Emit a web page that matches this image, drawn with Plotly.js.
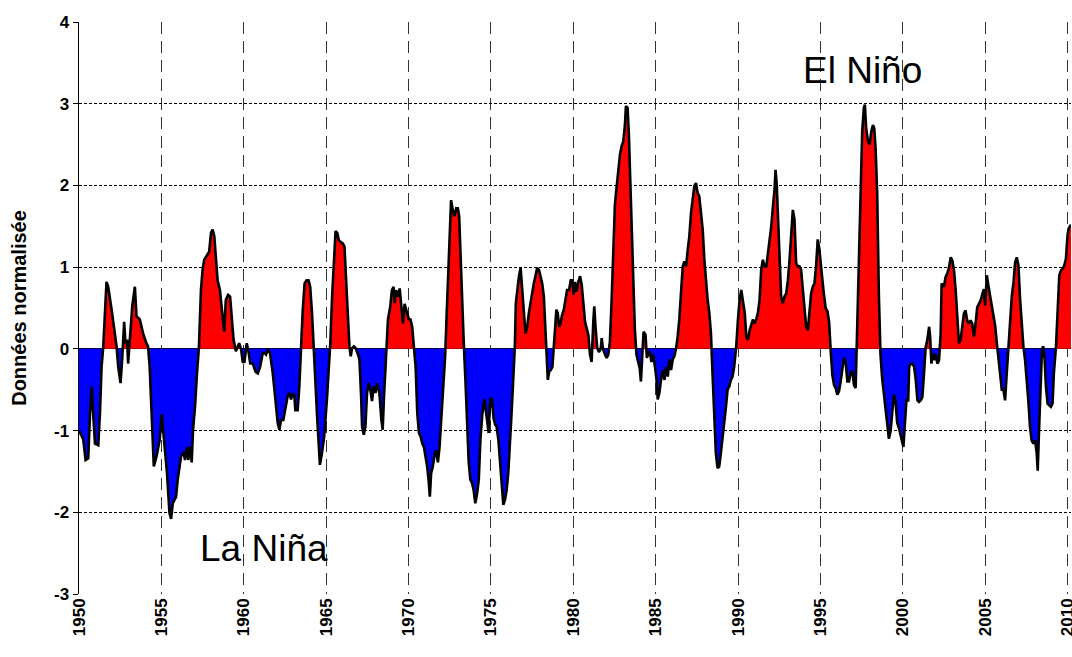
<!DOCTYPE html>
<html>
<head>
<meta charset="utf-8">
<script src="https://cdn.plot.ly/plotly-3.0.1.min.js"></script>
<style>html,body{margin:0;padding:0;background:#fff;}#chart{width:1072px;height:657px;}</style>
</head>
<body>
<div id="chart"></div>
<script>
const years = [
1950.00,1950.06,1950.26,1950.40,1950.56,1950.67,1950.77,1950.87,1950.97,1951.17,1951.27,1951.37,1951.47,1951.67,1951.77,1951.98,
1952.18,1952.28,1952.38,1952.52,1952.62,1952.74,1952.82,1952.92,1952.98,1953.08,1953.23,1953.39,1953.49,1953.69,1953.89,1954.09,
1954.19,1954.29,1954.40,1954.54,1954.70,1954.90,1955.02,1955.08,1955.18,1955.34,1955.49,1955.59,1955.69,1955.89,1955.99,1956.09,
1956.19,1956.35,1956.43,1956.55,1956.63,1956.76,1956.84,1956.92,1957.04,1957.16,1957.28,1957.40,1957.50,1957.60,1957.76,1957.90,
1958.01,1958.11,1958.21,1958.31,1958.41,1958.55,1958.67,1958.81,1958.91,1959.05,1959.17,1959.26,1959.38,1959.52,1959.62,1959.72,
1959.84,1959.94,1960.04,1960.18,1960.30,1960.39,1960.55,1960.71,1960.85,1960.99,1961.15,1961.25,1961.35,1961.45,1961.59,1961.76,
1961.92,1962.06,1962.16,1962.26,1962.40,1962.52,1962.66,1962.76,1962.87,1962.97,1963.07,1963.13,1963.27,1963.37,1963.47,1963.57,
1963.69,1963.81,1963.93,1964.03,1964.14,1964.22,1964.34,1964.44,1964.54,1964.62,1964.74,1964.88,1965.06,1965.16,1965.26,1965.36,
1965.47,1965.57,1965.67,1965.77,1965.87,1966.01,1966.11,1966.21,1966.31,1966.41,1966.49,1966.57,1966.68,1966.78,1966.90,1967.02,
1967.12,1967.18,1967.28,1967.38,1967.48,1967.58,1967.68,1967.78,1967.88,1967.99,1968.09,1968.23,1968.35,1968.43,1968.51,1968.63,
1968.75,1968.89,1968.99,1969.09,1969.16,1969.24,1969.36,1969.46,1969.56,1969.66,1969.76,1969.90,1970.02,1970.12,1970.22,1970.32,
1970.43,1970.53,1970.63,1970.73,1970.83,1970.93,1971.03,1971.13,1971.23,1971.29,1971.37,1971.47,1971.60,1971.68,1971.78,1971.88,
1971.98,1972.10,1972.22,1972.30,1972.38,1972.48,1972.58,1972.68,1972.78,1972.89,1972.99,1973.07,1973.15,1973.25,1973.35,1973.45,
1973.55,1973.65,1973.75,1973.85,1973.95,1974.05,1974.16,1974.26,1974.36,1974.48,1974.60,1974.68,1974.76,1974.86,1974.96,1975.06,
1975.16,1975.26,1975.34,1975.45,1975.55,1975.65,1975.75,1975.85,1975.95,1976.05,1976.15,1976.25,1976.35,1976.45,1976.51,1976.62,
1976.70,1976.80,1976.90,1977.00,1977.10,1977.20,1977.30,1977.40,1977.50,1977.60,1977.70,1977.80,1977.91,1978.01,1978.11,1978.21,
1978.29,1978.37,1978.45,1978.53,1978.63,1978.73,1978.81,1978.89,1978.97,1979.05,1979.14,1979.22,1979.30,1979.42,1979.52,1979.62,
1979.74,1979.84,1979.94,1980.02,1980.10,1980.20,1980.30,1980.41,1980.51,1980.61,1980.71,1980.81,1980.91,1981.01,1981.11,1981.21,
1981.27,1981.35,1981.45,1981.55,1981.66,1981.72,1981.80,1981.92,1982.02,1982.12,1982.22,1982.32,1982.42,1982.52,1982.62,1982.72,
1982.83,1982.93,1983.03,1983.13,1983.19,1983.29,1983.37,1983.45,1983.53,1983.63,1983.73,1983.83,1983.93,1984.03,1984.10,1984.18,
1984.26,1984.38,1984.46,1984.54,1984.64,1984.74,1984.84,1984.94,1985.04,1985.12,1985.22,1985.32,1985.43,1985.53,1985.63,1985.73,
1985.83,1985.93,1986.03,1986.13,1986.23,1986.33,1986.43,1986.53,1986.64,1986.74,1986.84,1986.94,1987.04,1987.14,1987.24,1987.34,
1987.44,1987.54,1987.64,1987.74,1987.85,1987.95,1988.05,1988.15,1988.25,1988.35,1988.41,1988.49,1988.55,1988.65,1988.75,1988.85,
1988.95,1989.05,1989.16,1989.26,1989.36,1989.46,1989.56,1989.66,1989.76,1989.88,1989.99,1990.09,1990.19,1990.29,1990.40,1990.50,
1990.60,1990.70,1990.80,1990.90,1991.00,1991.10,1991.20,1991.30,1991.40,1991.50,1991.61,1991.71,1991.81,1991.91,1992.01,1992.11,
1992.21,1992.27,1992.35,1992.41,1992.51,1992.61,1992.71,1992.81,1992.92,1993.02,1993.12,1993.22,1993.32,1993.42,1993.52,1993.62,
1993.72,1993.82,1993.92,1994.02,1994.13,1994.23,1994.33,1994.43,1994.53,1994.63,1994.73,1994.83,1994.93,1995.03,1995.11,1995.21,
1995.31,1995.42,1995.52,1995.62,1995.72,1995.82,1995.92,1996.02,1996.12,1996.22,1996.32,1996.42,1996.52,1996.63,1996.73,1996.83,
1996.93,1997.03,1997.13,1997.23,1997.33,1997.43,1997.53,1997.63,1997.69,1997.77,1997.88,1997.98,1998.08,1998.18,1998.26,1998.34,
1998.44,1998.54,1998.64,1998.74,1998.84,1998.94,1999.04,1999.15,1999.25,1999.35,1999.45,1999.55,1999.65,1999.77,1999.87,1999.97,
2000.03,2000.11,2000.21,2000.32,2000.38,2000.48,2000.58,2000.68,2000.78,2000.88,2000.98,2001.08,2001.18,2001.28,2001.38,2001.48,
2001.59,2001.65,2001.73,2001.81,2001.89,2001.99,2002.09,2002.19,2002.29,2002.35,2002.49,2002.59,2002.69,2002.80,2002.90,2003.00,
2003.10,2003.20,2003.30,2003.40,2003.50,2003.60,2003.70,2003.80,2003.90,2004.00,2004.11,2004.21,2004.31,2004.41,2004.51,2004.61,
2004.71,2004.81,2004.91,2004.99,2005.09,2005.19,2005.29,2005.40,2005.50,2005.60,2005.70,2005.80,2005.90,2006.00,2006.10,2006.20,
2006.30,2006.40,2006.50,2006.61,2006.71,2006.81,2006.91,2007.01,2007.11,2007.21,2007.31,2007.41,2007.51,2007.61,2007.71,2007.81,
2007.92,2008.02,2008.12,2008.18,2008.26,2008.36,2008.44,2008.52,2008.60,2008.68,2008.78,2008.88,2008.98,2009.08,2009.16,2009.29,
2009.39,2009.49,2009.59,2009.69,2009.79,2009.89,2009.99,2010.05,2010.20
];
const mei = [
-1.00,-1.03,-1.11,-1.36,-1.34,-0.79,-0.46,-0.83,-1.16,-1.18,-0.79,-0.22,0.02,0.82,0.76,0.48,
0.19,0.03,-0.22,-0.42,-0.13,0.33,0.07,0.11,-0.18,0.11,0.52,0.76,0.40,0.36,0.19,0.07,
0.03,-0.22,-0.79,-1.44,-1.32,-1.11,-0.80,-0.95,-1.20,-1.52,-2.01,-2.08,-1.89,-1.81,-1.60,-1.44,
-1.32,-1.26,-1.36,-1.20,-1.36,-1.20,-1.39,-0.99,-0.71,-0.30,0.03,0.72,0.97,1.09,1.15,1.19,
1.42,1.46,1.38,1.13,0.84,0.72,0.44,0.21,0.60,0.66,0.64,0.36,0.11,-0.03,0.03,0.07,
-0.01,-0.16,-0.16,0.07,-0.05,-0.18,-0.18,-0.28,-0.30,-0.22,-0.05,-0.05,-0.07,-0.01,-0.05,-0.30,
-0.62,-0.91,-0.99,-0.87,-0.87,-0.75,-0.58,-0.54,-0.62,-0.54,-0.58,-0.75,-0.75,-0.46,0.03,0.44,
0.80,0.84,0.84,0.76,0.44,0.03,-0.38,-0.79,-1.20,-1.42,-1.28,-1.07,-0.58,-0.22,0.11,0.64,
1.13,1.44,1.42,1.33,1.31,1.29,1.25,0.84,0.44,0.03,-0.09,0.01,0.03,0.01,-0.05,-0.13,
-0.58,-0.95,-1.05,-0.95,-0.54,-0.42,-0.50,-0.64,-0.46,-0.54,-0.42,-0.54,-0.87,-0.99,-0.58,-0.05,
0.36,0.52,0.72,0.76,0.56,0.72,0.64,0.74,0.52,0.31,0.55,0.46,0.36,0.36,0.27,0.03,
-0.22,-0.79,-1.03,-1.07,-1.16,-1.20,-1.32,-1.44,-1.64,-1.81,-1.52,-1.44,-1.28,-1.24,-1.39,-1.20,
-0.87,-0.46,-0.09,0.36,0.84,1.46,1.82,1.70,1.62,1.72,1.72,1.62,1.13,0.52,0.07,-0.38,
-0.99,-1.39,-1.60,-1.64,-1.73,-1.89,-1.77,-1.60,-1.11,-0.79,-0.62,-0.79,-0.87,-1.03,-0.60,-0.62,
-0.85,-0.93,-0.95,-1.11,-1.39,-1.73,-1.91,-1.85,-1.73,-1.52,-1.20,-0.79,-0.38,0.03,0.56,0.76,
0.89,0.99,0.76,0.44,0.19,0.27,0.44,0.56,0.72,0.80,0.89,0.99,0.97,0.89,0.80,0.64,
0.31,-0.05,-0.38,-0.28,-0.26,-0.22,0.03,0.31,0.48,0.44,0.27,0.31,0.40,0.48,0.60,0.72,
0.72,0.84,0.84,0.66,0.82,0.70,0.82,0.89,0.78,0.58,0.33,0.25,0.17,-0.07,-0.16,0.33,
0.52,0.25,0.01,-0.04,0.00,0.13,0.00,-0.07,-0.11,-0.07,0.09,0.58,1.27,1.76,1.97,2.17,
2.38,2.48,2.54,2.74,2.97,2.95,2.62,2.09,1.48,0.87,0.25,-0.07,-0.16,-0.24,-0.40,0.00,
0.21,0.17,-0.11,-0.07,-0.03,-0.16,-0.07,-0.20,-0.36,-0.62,-0.54,-0.38,-0.26,-0.38,-0.22,-0.34,
-0.13,-0.26,-0.13,-0.09,0.00,0.15,0.36,0.68,1.01,1.07,1.01,1.21,1.38,1.66,1.87,1.99,
2.03,1.91,1.87,1.70,1.46,1.09,0.80,0.60,0.44,0.19,-0.13,-0.54,-0.95,-1.28,-1.46,-1.44,
-1.28,-1.11,-0.91,-0.71,-0.50,-0.46,-0.38,-0.34,-0.22,0.02,0.36,0.60,0.72,0.60,0.44,0.15,
0.11,0.23,0.29,0.36,0.31,0.36,0.44,0.60,0.97,1.09,1.01,1.01,1.17,1.33,1.50,1.74,
1.95,2.19,1.99,1.66,1.17,0.64,0.56,0.64,0.68,0.84,1.09,1.42,1.70,1.58,1.05,1.01,
1.01,0.97,0.76,0.48,0.27,0.23,0.48,0.68,0.76,0.80,1.01,1.34,1.22,1.05,0.85,0.66,
0.50,0.46,0.33,-0.03,-0.32,-0.44,-0.48,-0.56,-0.52,-0.40,-0.28,-0.11,-0.16,-0.40,-0.40,-0.28,
-0.28,-0.44,-0.48,0.25,1.07,1.89,2.66,2.95,2.99,2.70,2.54,2.50,2.66,2.74,2.70,2.46,
1.89,0.66,-0.07,-0.36,-0.56,-0.77,-0.97,-1.10,-1.01,-0.77,-0.56,-0.64,-0.90,-0.98,-1.05,-1.15,
-1.20,-0.95,-0.63,-0.63,-0.22,-0.18,-0.18,-0.22,-0.38,-0.63,-0.65,-0.63,-0.59,-0.30,0.02,0.11,
0.27,0.15,-0.18,-0.06,-0.14,-0.06,-0.18,-0.14,0.19,0.80,0.76,0.88,0.92,1.00,1.12,1.08,
0.96,0.72,0.35,0.07,0.11,0.27,0.43,0.47,0.35,0.31,0.35,0.31,0.15,0.31,0.51,0.55,
0.59,0.66,0.73,0.53,0.90,0.77,0.65,0.57,0.44,0.28,0.07,-0.13,-0.34,-0.50,-0.50,-0.63,
-0.30,0.03,0.40,0.65,0.81,1.06,1.12,1.02,0.61,0.28,0.03,-0.13,-0.34,-0.63,-0.95,-1.12,
-1.16,-1.12,-1.28,-1.49,-1.00,-0.54,0.00,0.03,-0.13,-0.46,-0.67,-0.69,-0.71,-0.67,-0.30,0.03,
0.49,0.90,0.96,0.98,1.02,1.10,1.39,1.47,1.52
];
const xTicks = [1950,1955,1960,1965,1970,1975,1980,1985,1990,1995,2000,2005,2010];
const yTicks = [-3,-2,-1,0,1,2,3,4];
const labelElNino = 'El Niño';
const labelLaNina = 'La Niña';
const yTitle = 'Données normalisée';

// split into positive / negative parts, inserting zero crossings
const px = [], py = [], nx = [], ny = [];
for (let i = 0; i < years.length; i++) {
  const x0 = years[i], v0 = mei[i];
  px.push(x0); py.push(Math.max(v0, 0));
  nx.push(x0); ny.push(Math.min(v0, 0));
  if (i < years.length - 1) {
    const x1 = years[i + 1], v1 = mei[i + 1];
    if ((v0 > 0 && v1 < 0) || (v0 < 0 && v1 > 0)) {
      const xc = x0 + (v0 / (v0 - v1)) * (x1 - x0);
      px.push(xc); py.push(0);
      nx.push(xc); ny.push(0);
    }
  }
}

const font = 'Arial, "Liberation Sans", sans-serif';
const traces = [
  {x: px, y: py, type: 'scatter', mode: 'lines', fill: 'tozeroy', fillcolor: '#ff0000',
   line: {width: 0, color: '#ff0000'}, hoverinfo: 'skip', showlegend: false},
  {x: nx, y: ny, type: 'scatter', mode: 'lines', fill: 'tozeroy', fillcolor: '#0000ff',
   line: {width: 0, color: '#0000ff'}, hoverinfo: 'skip', showlegend: false},
  {x: years, y: mei, type: 'scatter', mode: 'lines', line: {color: '#000000', width: 2.6},
   showlegend: false}
];

const layout = {
  width: 1072, height: 657,
  margin: {l: 79, r: 1, t: 22, b: 63},
  paper_bgcolor: '#ffffff', plot_bgcolor: '#ffffff',
  font: {family: font, color: '#000'},
  xaxis: {
    range: [1950, 2010.2], tickvals: xTicks, ticktext: xTicks.map(String),
    tickangle: -90, tickfont: {family: font, size: 17, color: '#000', weight: 'bold'},
    ticklabeloverflow: 'allow',
    showgrid: true, gridcolor: '#333', gridwidth: 1, griddash: '12px,7px',
    zeroline: false, showline: false, ticks: '', ticklen: 0
  },
  yaxis: {
    range: [-3, 4], tickvals: yTicks, ticktext: yTicks.map(String),
    tickfont: {family: font, size: 17, color: '#000', weight: 'bold'},
    showgrid: true, gridcolor: '#000', gridwidth: 1, griddash: '3px,2px',
    zeroline: true, zerolinecolor: '#000', zerolinewidth: 1,
    showline: true, linecolor: '#000', linewidth: 1.5,
    ticks: 'outside', ticklen: 5, tickcolor: '#000',
    title: {text: yTitle, font: {family: font, size: 20, color: '#000', weight: 'bold'}, standoff: 22}
  },
  annotations: [
    {x: 1997.55, y: 3.41, xref: 'x', yref: 'y', text: labelElNino, showarrow: false,
     font: {family: font, size: 37, color: '#000'}},
    {x: 1961.25, y: -2.44, xref: 'x', yref: 'y', text: labelLaNina, showarrow: false,
     font: {family: font, size: 37, color: '#000'}}
  ]
};

Plotly.newPlot('chart', traces, layout, {displayModeBar: false, staticPlot: true});
</script>
</body>
</html>
